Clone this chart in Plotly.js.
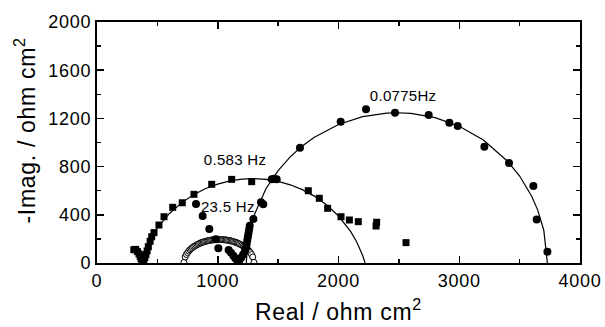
<!DOCTYPE html>
<html>
<head>
<meta charset="utf-8">
<script src="https://cdn.plot.ly/plotly-3.0.1.min.js"></script>
<style>
html,body{margin:0;padding:0;background:#fff;}
#chart{width:605px;height:327px;}
#chart .xtick text, #chart .ytick text{letter-spacing:0.8px;}
#chart .g-xtitle text{letter-spacing:0.7px;}
#chart .annotation-text{letter-spacing:0.3px;}
#chart .annotation[data-index="3"] .annotation-text{letter-spacing:0.7px;}
</style>
</head>
<body>
<div id="chart"></div>
<script>
// 0.583 Hz series (filled squares)
const sqX = [305,320,335,348,358,365,372,380,388,396,405,415,425,440,453,472,513,555,627,706,803,950,1115,1281,1750,1841,1910,2021,2090,2164,2316,2311,2559];
const sqY = [110,113,95,75,55,35,18,8,20,45,70,100,135,180,218,252,315,384,462,500,570,653,694,675,600,537,454,384,357,343,338,307,169];
// fitted arc for 0.583 Hz
const sqFitX = [450,500,600,700,800,900,1000,1100,1200,1300,1400,1500,1600,1700,1800,1900,2000,2100,2150,2200,2220];
const sqFitY = [213,291,411,499,567,618,655,681,696,700,694,677,649,609,555,484,390,262,176,62,0];

// 0.0775 Hz series (filled circles)
const ciX = [820,875,930,985,1005,1090,1110,1130,1145,1160,1170,1180,1195,1210,1225,1235,1240,1245,1250,1255,1260,1265,1295,1358,1377,1447,1465,1488,1681,2018,2228,2468,2747,2918,2987,3208,3412,3614,3641,3730];
const ciY = [490,390,282,197,122,108,85,60,40,25,15,25,45,70,100,130,160,190,220,250,280,310,365,504,487,694,700,694,957,1173,1276,1247,1228,1164,1137,965,830,639,362,94];
// fitted arc for 0.0775 Hz
const ciFitX = [1236,1250,1300,1400,1500,1600,1700,1800,2000,2200,2400,2483,2600,2800,3000,3200,3400,3500,3600,3650,3700,3730];
const ciFitY = [0,186,394,618,767,881,971,1043,1150,1214,1244,1247,1241,1206,1135,1020,845,722,554,439,272,0];

// 23.5 Hz series (open circles)
const opX = [720,730,740,750,760,770,780,790,800,810,820,830,840,850,860,870,880,890,900,910,920,930,940,950,960,970,980,990,1000,1010,1020,1030,1040,1050,1060,1070,1080,1090,1100,1110,1120,1130,1140,1150,1160,1170,1180,1190,1200,1210,1220,1230,1240,1250,1260,1270,1280,1290,1300];
const opY = [5,50,71,86,99,110,119,128,135,141,147,153,158,163,167,171,174,177,180,183,185,187,189,191,192,193,194,195,195,196,195,195,194,193,192,191,189,187,185,183,180,177,174,171,167,163,158,153,147,141,135,128,119,110,99,86,71,50,5];

const freqLabels = ["0.583 Hz", "23.5 Hz", "0.0775Hz"];
const labelX = [1143, 1085, 2534];
const labelY = [855, 473, 1386];

const xTitle = 'Real / ohm cm<sup>2</sup>';
const yTitle = '-Imag. / ohm cm<sup>2</sup>';

const FONT = 'Liberation Sans, Arial, Helvetica, sans-serif';

const traces = [
  {x: sqFitX, y: sqFitY, mode: 'lines', line: {color: '#000', width: 1.2}, hoverinfo: 'skip'},
  {x: ciFitX, y: ciFitY, mode: 'lines', line: {color: '#000', width: 1.2}, hoverinfo: 'skip'},
  {x: opX, y: opY, mode: 'lines+markers', line: {color: '#000', width: 1},
   marker: {symbol: 'circle', size: 6, color: '#fff', line: {color: '#000', width: 1}}},
  {x: sqX, y: sqY, mode: 'markers', marker: {symbol: 'square', size: 7, color: '#000'}},
  {x: ciX, y: ciY, mode: 'markers', marker: {symbol: 'circle', size: 8, color: '#000'}}
];

const annotations = freqLabels.map((t, i) => ({
  x: labelX[i], y: labelY[i], xref: 'x', yref: 'y', text: t, showarrow: false,
  font: {family: FONT, size: 15, color: '#000'}
}));
// y-axis title as a rotated annotation (allows exact vertical placement)
annotations.push({
  xref: 'paper', yref: 'paper', x: -0.149, y: 0.548, xanchor: 'center', yanchor: 'middle',
  text: yTitle, textangle: -90, showarrow: false,
  font: {family: FONT, size: 23, color: '#000'}
});

const axisCommon = {
  showline: true, linecolor: '#000', linewidth: 2, mirror: 'ticks',
  ticks: 'inside', ticklen: 7, tickwidth: 1.5, tickcolor: '#000',
  showgrid: false, zeroline: false,
  tickfont: {family: FONT, size: 18, color: '#000'}
};

const layout = {
  width: 605, height: 327,
  margin: {l: 97, r: 25, t: 22, b: 64},
  paper_bgcolor: '#fff', plot_bgcolor: '#fff',
  showlegend: false,
  xaxis: Object.assign({}, axisCommon, {
    range: [0, 4000], tickvals: [0,1000,2000,3000,4000],
    minor: {tickvals: [500,1500,2500,3500], ticks: 'inside', ticklen: 4, tickwidth: 1.5, tickcolor: '#000'},
    title: {text: xTitle, font: {family: FONT, size: 23, color: '#000'}, standoff: 14}
  }),
  yaxis: Object.assign({}, axisCommon, {
    range: [0, 2000], tickvals: [0,400,800,1200,1600,2000],
    minor: {tickvals: [200,600,1000,1400,1800], ticks: 'inside', ticklen: 4, tickwidth: 1.5, tickcolor: '#000'}
  }),
  annotations: annotations
};

Plotly.newPlot('chart', traces, layout, {staticPlot: true, displayModeBar: false});
</script>
</body>
</html>
